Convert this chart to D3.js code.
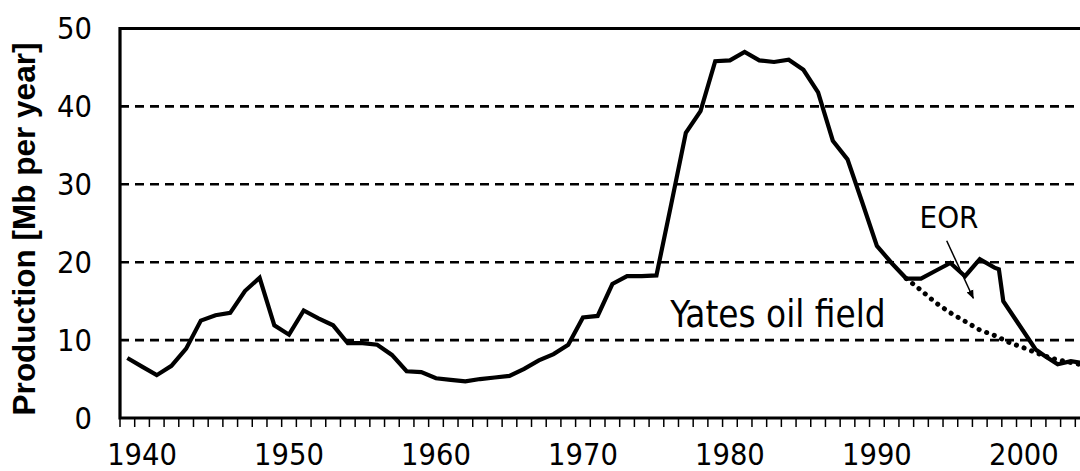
<!DOCTYPE html>
<html>
<head>
<meta charset="utf-8">
<script src="https://cdn.jsdelivr.net/npm/d3@7"></script>
<style>
  html, body { margin: 0; padding: 0; background: #fff; }
  svg { display: block; }
  .tick-label { font-family: "DejaVu Sans Condensed", "Noto Sans", sans-serif; font-size: 30.5px; fill: #000; }
</style>
</head>
<body>
<div id="chart"></div>
<script>
// Yates oil field production, Mb per year
const prodYears = [
  1939, 1940, 1941, 1942, 1943, 1944, 1945, 1946, 1947, 1948,
  1949, 1950, 1951, 1952, 1953, 1954, 1955, 1956, 1957, 1958,
  1959, 1960, 1961, 1962, 1963, 1964, 1965, 1966, 1967, 1968,
  1969, 1970, 1971, 1972, 1973, 1974, 1975, 1976, 1977, 1978,
  1979, 1980, 1981, 1982, 1983, 1984, 1985, 1986, 1987, 1988,
  1989, 1990, 1991, 1992, 1993, 1994, 1995, 1996, 1997, 1998,
  1998.3, 1998.6, 2000.8, 2001.4, 2002.3, 2003.2, 2003.9, 2004.3
]
const prodValues = [
  7.7, 6.6, 5.5, 6.7, 8.9, 12.5, 13.2, 13.5, 16.3, 18.0,
  11.9, 10.7, 13.8, 12.8, 11.9, 9.6, 9.6, 9.4, 8.1, 6.0,
  5.9, 5.1, 4.9, 4.7, 5.0, 5.2, 5.4, 6.3, 7.4, 8.2,
  9.4, 12.9, 13.1, 17.2, 18.2, 18.2, 18.3, 27.4, 36.6, 39.4,
  45.8, 45.9, 47.0, 45.9, 45.7, 46.0, 44.7, 41.8, 35.6, 33.2,
  27.7, 22.1, 19.9, 17.9, 17.9, 18.9, 19.9, 18.2, 20.4, 19.3,
  19.1, 15.0, 8.8, 8.0, 6.9, 7.3, 7.1, 6.7
]

// decline without EOR (dotted)
const trendYears = [1992, 1993, 1994, 1995, 1996, 1997, 1998, 1999, 2000, 2001, 2002, 2003, 2004]
const trendValues = [17.9, 16.4, 14.8, 13.5, 12.4, 11.3, 10.6, 9.7, 9.0, 8.25, 7.6, 7.2, 6.8]

const yTicks = [0, 10, 20, 30, 40, 50]
const gridValues = [10, 20, 30, 40]
const xLabels = [1940, 1950, 1960, 1970, 1980, 1990, 2000]

const width = 1080
const height = 471
const [mTop, mRight, mBottom, mLeft] = [28.5, 1090, 418, 120]

const x = d3.scaleLinear().domain([1938.5, 2004.5]).range([mLeft, mRight])
const y = d3.scaleLinear().domain([0, 50]).range([mBottom, mTop])

const svg = d3.select('#chart')
  .append('svg')
  .attr('width', width)
  .attr('height', height)

// dashed gridlines
svg.append('g')
  .selectAll('line')
  .data(gridValues)
  .join('line')
  .attr('x1', mLeft)
  .attr('x2', mRight)
  .attr('y1', d => y(d))
  .attr('y2', d => y(d))
  .attr('stroke', '#000')
  .attr('stroke-width', 2.6)
  .attr('stroke-dasharray', '9,6')

// minor ticks at year boundaries
svg.append('g')
  .selectAll('line')
  .data(d3.range(1938.5, 2005, 1))
  .join('line')
  .attr('x1', d => x(d))
  .attr('x2', d => x(d))
  .attr('y1', mBottom)
  .attr('y2', mBottom + 9)
  .attr('stroke', '#000')
  .attr('stroke-width', 1.5)

// frame: left, bottom, top
svg.append('path')
  .attr('d', `M${mRight},${mTop}H${mLeft}V${mBottom}H${mRight}`)
  .attr('fill', 'none')
  .attr('stroke', '#000')
  .attr('stroke-width', 3.2)

// y tick labels
svg.append('g')
  .selectAll('text')
  .data(yTicks)
  .join('text')
  .attr('class', 'tick-label')
  .attr('x', 92)
  .attr('y', d => y(d))
  .attr('dy', '0.36em')
  .attr('text-anchor', 'end')
  .text(d => d)

// x tick labels
svg.append('g')
  .selectAll('text')
  .data(xLabels)
  .join('text')
  .attr('class', 'tick-label')
  .attr('x', d => x(d))
  .attr('y', 465)
  .attr('text-anchor', 'middle')
  .text(d => d)

// y axis title
svg.append('text')
  .attr('transform', 'translate(35,229) rotate(-90)')
  .attr('text-anchor', 'middle')
  .style('font-family', '"Liberation Sans", Arial, sans-serif')
  .style('font-weight', 'bold')
  .style('font-size', '31.5px')
  .text('Production [Mb per year]')

const line = d3.line()
  .x(d => x(d[0]))
  .y(d => y(d[1]))

svg.append('path')
  .datum(d3.zip(prodYears, prodValues))
  .attr('d', line)
  .attr('fill', 'none')
  .attr('stroke', '#000')
  .attr('stroke-width', 4.2)
  .attr('stroke-linejoin', 'miter')

svg.append('path')
  .datum(d3.zip(trendYears, trendValues))
  .attr('d', line)
  .attr('fill', 'none')
  .attr('stroke', '#000')
  .attr('stroke-width', 5)
  .attr('stroke-linecap', 'round')
  .attr('stroke-dasharray', '0.1,8')

// annotations
svg.append('text')
  .attr('x', 778)
  .attr('y', 327)
  .attr('text-anchor', 'middle')
  .attr('class', 'tick-label')
  .style('font-size', '36.5px')
  .text('Yates oil field')

svg.append('text')
  .attr('x', 949)
  .attr('y', 228)
  .attr('text-anchor', 'middle')
  .attr('class', 'tick-label')
  .style('font-size', '31px')
  .text('EOR')

svg.append('defs')
  .append('marker')
  .attr('id', 'arrow')
  .attr('viewBox', '0 0 10 10')
  .attr('refX', 9)
  .attr('refY', 5)
  .attr('markerWidth', 6)
  .attr('markerHeight', 6)
  .attr('orient', 'auto')
  .append('path')
  .attr('d', 'M0,1L10,5L0,9Z')
  .attr('fill', '#000')

svg.append('line')
  .attr('x1', 946.7)
  .attr('y1', 240.7)
  .attr('x2', 973.3)
  .attr('y2', 298.3)
  .attr('stroke', '#000')
  .attr('stroke-width', 1.5)
  .attr('marker-end', 'url(#arrow)')
</script>
</body>
</html>
